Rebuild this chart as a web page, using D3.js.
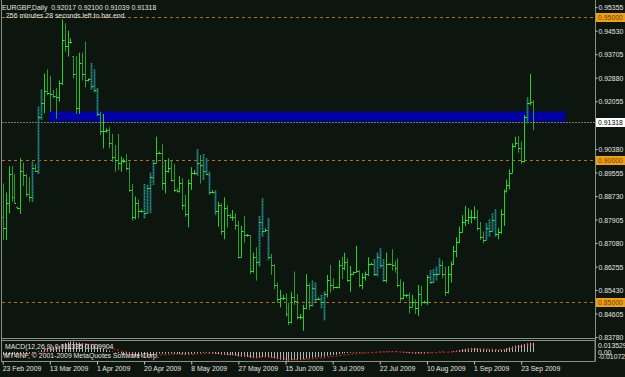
<!DOCTYPE html>
<html><head><meta charset="utf-8">
<script src="https://cdn.jsdelivr.net/npm/d3@7/dist/d3.min.js"></script>
<style>html,body{margin:0;padding:0;background:#0d160e;}svg{display:block}</style>
</head><body><svg id="c" width="625" height="377"></svg>
<script>
const symbolTitle = "EURGBP,Daily  0.92017 0.92100 0.91039 0.91318";
const timerText = "256 minutes 28 seconds left to bar end.";
const macdTitle = "MACD(12,26,9) 0.011335 0.009904";
const copyrightText = "MT4INF, \u00a9 2001-2009 MetaQuotes Software Corp.";

const high = [.8917,.8885,.8978,.8978,.8950,.8836,.9005,.8990,.8950,.8939,
.8993,.8985,.9186,.9246,.9303,.9317,.9294,.9245,.9251,.9278,
.9493,.9479,.9453,.9426,.9364,.9364,.9376,.9376,.9415,.9286,
.9339,.9317,.9251,.9169,.9161,.9110,.9114,.9091,.9052,.9091,
.9011,.9005,.9020,.8993,.8915,.8871,.8861,.8826,.8915,.8912,
.8955,.8999,.9081,.9029,.9055,.8997,.9005,.8997,.8985,.8900,
.8943,.8935,.8877,.8931,.8974,.8964,.9037,.9017,.9020,.9005,
.8958,.8894,.8892,.8853,.8847,.8868,.8841,.8810,.8824,.8812,
.8786,.8768,.8803,.8740,.8736,.8674,.8693,.8803,.8865,.8760,
.8795,.8670,.8634,.8569,.8543,.8526,.8531,.8499,.8537,.8608,
.8529,.8459,.8491,.8599,.8566,.8576,.8569,.8517,.8526,.8537,
.8596,.8631,.8584,.8555,.8648,.8660,.8674,.8654,.8627,.8608,
.8698,.8613,.8602,.8608,.8658,.8639,.8651,.8674,.8689,.8651,
.8674,.8637,.8686,.8646,.8654,.8581,.8572,.8529,.8534,.8526,
.8510,.8561,.8557,.8506,.8596,.8613,.8616,.8625,.8654,.8646,
.8625,.8627,.8643,.8698,.8728,.8766,.8806,.8838,.8830,.8824,
.8836,.8824,.8782,.8748,.8777,.8791,.8812,.8826,.8760,.8826,
.8896,.8931,.8966,.9058,.9081,.9084,.9064,.9157,.9219,.9301,
.92100];
const low = [.8719,.8719,.8812,.8853,.8847,.8826,.8810,.8908,.8871,.8853,
.8853,.8958,.8950,.9140,.9163,.9227,.9169,.9216,.9144,.9204,
.9262,.9379,.9362,.9409,.9286,.9161,.9161,.9278,.9254,.9275,
.9245,.9236,.9154,.9087,.9040,.9095,.9040,.8993,.8958,.8964,
.8958,.8988,.8962,.8888,.8786,.8791,.8795,.8815,.8795,.8812,
.8812,.8912,.8988,.9020,.8894,.8882,.8955,.8923,.8888,.8885,
.8885,.8824,.8800,.8763,.8894,.8947,.8943,.8917,.8929,.8947,
.8877,.8882,.8806,.8765,.8736,.8721,.8763,.8795,.8786,.8754,
.8654,.8658,.8709,.8730,.8599,.8604,.8576,.8625,.8730,.8748,
.8648,.8596,.8546,.8499,.8482,.8508,.8450,.8420,.8426,.8491,
.8440,.8440,.8400,.8475,.8473,.8485,.8502,.8508,.8479,.8436,
.8517,.8534,.8543,.8549,.8549,.8581,.8613,.8572,.8537,.8596,
.8604,.8553,.8546,.8576,.8592,.8631,.8592,.8590,.8619,.8572,
.8569,.8631,.8611,.8604,.8553,.8502,.8510,.8517,.8461,.8482,
.8459,.8452,.8487,.8496,.8491,.8564,.8569,.8576,.8596,.8584,
.8522,.8531,.8569,.8631,.8658,.8707,.8744,.8768,.8775,.8777,
.8789,.8751,.8719,.8707,.8719,.8730,.8748,.8730,.8721,.8740,
.8768,.8885,.8896,.8953,.9044,.9025,.8985,.8990,.9126,.9192,
.91039];
const close = [.8760,.8850,.8950,.8870,.8850,.8832,.8960,.8946,.8880,.8870,
.8970,.8962,.9150,.9200,.9240,.9235,.9230,.9225,.9220,.9270,
.9420,.9400,.9415,.9415,.9300,.9180,.9340,.9300,.9280,.9282,
.9260,.9245,.9160,.9100,.9100,.9105,.9060,.9010,.9000,.8990,
.8995,.8995,.8970,.8895,.8800,.8850,.8820,.8820,.8815,.8900,
.8940,.8990,.9025,.9025,.8920,.8960,.8970,.8930,.8893,.8890,
.8920,.8840,.8810,.8920,.8955,.8955,.8990,.8980,.8960,.8950,
.8888,.8888,.8820,.8840,.8750,.8830,.8805,.8800,.8800,.8770,
.8660,.8750,.8735,.8735,.8610,.8660,.8640,.8780,.8750,.8755,
.8660,.8630,.8560,.8510,.8515,.8515,.8460,.8430,.8520,.8505,
.8450,.8450,.8480,.8560,.8490,.8550,.8512,.8512,.8500,.8530,
.8580,.8560,.8552,.8552,.8630,.8620,.8640,.8580,.8600,.8605,
.8610,.8560,.8590,.8600,.8635,.8635,.8600,.8660,.8630,.8580,
.8635,.8635,.8630,.8620,.8560,.8515,.8525,.8525,.8485,.8500,
.8480,.8530,.8500,.8500,.8590,.8570,.8600,.8600,.8630,.8600,
.8535,.8600,.8635,.8680,.8710,.8745,.8780,.8790,.8800,.8800,
.8800,.8760,.8730,.8720,.8760,.8750,.8790,.8740,.8745,.8810,
.8890,.8910,.8955,.9050,.9060,.9040,.8995,.9150,.9200,.92017,
.91318];
const firstOpen = 0.8800;
const lastOpen = 0.92017;
// bars drawn with the dotted steel-blue style
const dottedBars = [10,12,13,30,31,32,48,49,50,51,66,68,69,70,72,87,88,90,105,106,108,109,126,127,128,129,145,146,147,148,164,165,166,167,178];

const macdMain = [-0.0040,-0.0042,-0.0038,-0.0036,-0.0034,-0.0033,-0.0026,-0.0021,-0.0020,-0.0019,-0.0012,-0.0008,
0.0008,0.0025,0.0040,0.0052,0.0060,0.0066,0.0068,0.0075,
0.0095,0.0110,0.0122,0.0130,0.0128,0.0118,0.0116,0.0110,0.0104,0.0098,0.0090,0.0082,0.0068,
0.0050,0.0038,0.0028,0.0017,0.0004,-0.0006,-0.0015,-0.0021,-0.0026,-0.0032,-0.0042,-0.0055,-0.0060,-0.0064,-0.0066,-0.0068,-0.0060,-0.0050,-0.0038,-0.0028,-0.0020,-0.0022,-0.0020,-0.0018,-0.0019,-0.0023,-0.0025,
-0.0025,-0.0030,-0.0035,-0.0030,-0.0024,-0.0020,-0.0014,-0.0010,-0.0009,-0.0008,-0.0012,-0.0015,-0.0022,-0.0026,-0.0035,-0.0036,-0.0038,-0.0040,-0.0041,-0.0044,
-0.0055,-0.0058,-0.0060,-0.0062,-0.0072,-0.0076,-0.0078,-0.0070,-0.0062,-0.0058,-0.0062,-0.0068,-0.0078,-0.0088,-0.0096,-0.0100,-0.0106,-0.0107,-0.0100,-0.0096,
-0.0096,-0.0094,-0.0090,-0.0082,-0.0078,-0.0070,-0.0066,-0.0062,-0.0060,-0.0056,-0.0048,-0.0042,-0.0038,-0.0035,-0.0026,-0.0020,-0.0014,-0.0013,-0.0010,-0.0008,
-0.0006,-0.0008,-0.0006,-0.0004,0.0000,0.0001,0.0000,0.0002,0.0006,0.0004,0.0005,0.0006,0.0006,0.0006,0.0002,-0.0004,-0.0008,-0.0010,-0.0016,-0.0018,
-0.0021,-0.0018,-0.0018,-0.0018,-0.0010,-0.0006,-0.0002,0.0000,0.0004,0.0005,0.0000,-0.0001,0.0003,0.0010,0.0017,0.0025,0.0034,0.0040,0.0045,0.0048,
0.0050,0.0046,0.0040,0.0034,0.0032,0.0030,0.0031,0.0027,0.0024,0.0028,0.0036,0.0046,0.0056,0.0068,0.0078,0.0086,0.0090,0.0098,0.0106,0.0114,0.011335];
const macdSignal = [-0.0050,-0.0049,-0.0048,-0.0046,-0.0044,-0.0042,-0.0039,-0.0036,-0.0033,-0.0030,-0.0027,-0.0024,
-0.0018,-0.0010,-0.0001,0.0008,0.0017,0.0026,0.0034,0.0042,
0.0052,0.0062,0.0072,0.0081,0.0089,0.0093,0.0096,0.0098,0.0098,0.0097,0.0095,0.0092,0.0087,
0.0080,0.0071,0.0062,0.0053,0.0043,0.0033,0.0024,0.0015,0.0007,-0.0001,-0.0010,-0.0019,-0.0027,-0.0035,-0.0041,-0.0047,-0.0050,-0.0050,-0.0048,-0.0044,-0.0040,-0.0036,-0.0033,-0.0030,-0.0028,-0.0027,-0.0026,
-0.0026,-0.0027,-0.0028,-0.0028,-0.0027,-0.0026,-0.0024,-0.0021,-0.0019,-0.0017,-0.0016,-0.0016,-0.0017,-0.0019,-0.0022,-0.0025,-0.0027,-0.0030,-0.0032,-0.0034,
-0.0038,-0.0042,-0.0045,-0.0049,-0.0053,-0.0058,-0.0062,-0.0063,-0.0063,-0.0062,-0.0062,-0.0063,-0.0066,-0.0070,-0.0076,-0.0081,-0.0086,-0.0090,-0.0092,-0.0093,
-0.0094,-0.0094,-0.0093,-0.0091,-0.0088,-0.0085,-0.0081,-0.0077,-0.0074,-0.0070,-0.0066,-0.0061,-0.0057,-0.0052,-0.0047,-0.0042,-0.0036,-0.0032,-0.0027,-0.0023,
-0.0020,-0.0017,-0.0015,-0.0013,-0.0010,-0.0008,-0.0006,-0.0004,-0.0002,-0.0001,0.0000,0.0001,0.0002,0.0003,0.0003,0.0002,0.0000,-0.0002,-0.0005,-0.0008,
-0.0010,-0.0012,-0.0013,-0.0014,-0.0013,-0.0012,-0.0010,-0.0008,-0.0005,-0.0003,-0.0002,-0.0002,-0.0001,0.0001,0.0004,0.0008,0.0013,0.0018,0.0024,0.0029,
0.0033,0.0036,0.0037,0.0037,0.0036,0.0035,0.0034,0.0033,0.0031,0.0030,0.0031,0.0034,0.0038,0.0045,0.0053,0.0061,0.0067,0.0075,0.0083,0.0092,0.009904];
const macdRange = [-0.010725, 0.013529];
const macdLabels = ["0.013529", "0.00", "-0.010725"];

const priceTicks = [0.95355,0.94530,0.93705,0.92880,0.92055,0.90380,0.89555,0.88730,0.87905,0.87080,0.86255,0.85430,0.84605,0.83780];
const levelLines = [0.95000, 0.90000, 0.85000];
const bidPrice = 0.91318;
const zoneTop = 0.9169, zoneBottom = 0.9135, zoneFrom = 15.7, zoneTo = 191;
const dateLabels = ["23 Feb 2009","13 Mar 2009","1 Apr 2009","20 Apr 2009","8 May 2009","27 May 2009","15 Jun 2009","3 Jul 2009","22 Jul 2009","10 Aug 2009","1 Sep 2009","23 Sep 2009"];
const dateStep = 16;

// ---------- drawing ----------
const svg = d3.select("#c");
const W = 625, H = 377;
const plotL = 2, plotR = 595, mainTop = 0, mainBottom = 338, macdTop = 340, macdBottom = 361;
const FONT = "'Liberation Sans',Arial,sans-serif";
const FS = 8, SX = 0.86;
const TXT = "#e4e4e4";
const BG = "#0d160e";

svg.append("rect").attr("width", W).attr("height", H).attr("fill", BG);

function label(parent, x0, y0, s, fill) {
  const g = parent.append("g").attr("transform", `translate(${x0},${y0}) scale(${SX},1)`);
  return g.append("text").attr("dy", "0.35em").text(s)
    .attr("fill", fill || TXT).attr("font-family", FONT).attr("font-size", FS)
    .style("white-space", "pre");
}

const n = high.length;
const x = d3.scaleLinear().domain([0, n - 1]).range([2.7, 533]);
const y = d3.scaleLinear().domain([0.85, 0.95]).range([302.3, 17.3]);
const ym = d3.scaleLinear().domain(macdRange).range([macdBottom - 0.3, macdTop + 1]);

const open = close.map((c, i) => i === 0 ? firstOpen : (i === n - 1 ? lastOpen : close[i - 1]));
const bars = high.map((h, i) => ({
  i, h, l: low[i], c: close[i],
  o: Math.min(h, Math.max(low[i], open[i])),
  dotted: dottedBars.includes(i)
}));

const main = svg.append("g");
main.append("clipPath").attr("id", "mclip").append("rect")
  .attr("x", plotL).attr("y", mainTop).attr("width", plotR - plotL).attr("height", mainBottom - mainTop);
const mg = main.append("g").attr("clip-path", "url(#mclip)");

// zone rectangle
mg.append("rect")
  .attr("x", x(zoneFrom)).attr("width", x(zoneTo) - x(zoneFrom))
  .attr("y", y(zoneTop)).attr("height", y(zoneBottom) - y(zoneTop))
  .attr("fill", "#0000a6");

// level lines
mg.selectAll("line.level").data(levelLines).join("line")
  .attr("x1", plotL).attr("x2", plotR)
  .attr("y1", d => Math.round(y(d)) + 0.5).attr("y2", d => Math.round(y(d)) + 0.5)
  .attr("stroke", "#b8701e").attr("stroke-width", 1).attr("stroke-dasharray", "3,3");

// bid line
mg.append("line")
  .attr("x1", plotL).attr("x2", plotR)
  .attr("y1", Math.round(y(bidPrice)) + 0.5).attr("y2", Math.round(y(bidPrice)) + 0.5)
  .attr("stroke", "#6e7882").attr("stroke-width", 1).attr("stroke-dasharray", "2,1");

// OHLC bars
const upCol = "#1ed21e", dnCol = "#2a9c2a";
const bg = mg.selectAll("g.bar").data(bars).join("g").attr("class", "bar");
bg.each(function (d) {
  const g = d3.select(this);
  const cx = Math.round(x(d.i)) + 0.5;
  const col = d.c >= d.o ? upCol : dnCol;
  if (d.dotted) {
    g.append("rect").attr("x", cx - 1).attr("width", 2)
      .attr("y", y(d.h)).attr("height", Math.max(1, y(d.l) - y(d.h)))
      .attr("fill", "#1d5a74");
    g.append("line").attr("x1", cx).attr("x2", cx).attr("y1", y(d.h)).attr("y2", y(d.l))
      .attr("stroke", "#2fae3a").attr("stroke-width", 1).attr("stroke-dasharray", "1,2");
  } else {
    g.append("line").attr("x1", cx).attr("x2", cx).attr("y1", y(d.h)).attr("y2", Math.max(y(d.l), y(d.h) + 1))
      .attr("stroke", col).attr("stroke-width", 1);
  }
  g.append("line").attr("x1", cx - 1.5).attr("x2", cx).attr("y1", Math.round(y(d.o)) + 0.5).attr("y2", Math.round(y(d.o)) + 0.5)
    .attr("stroke", col).attr("stroke-width", 1);
  g.append("line").attr("x1", cx).attr("x2", cx + 1.5).attr("y1", Math.round(y(d.c)) + 0.5).attr("y2", Math.round(y(d.c)) + 0.5)
    .attr("stroke", "#3cf03c").attr("stroke-width", 1);
});

// frame
const frameCol = "#8a8f8a";
svg.append("line").attr("x1", 1.5).attr("x2", 1.5).attr("y1", 0).attr("y2", macdBottom).attr("stroke", frameCol);
svg.append("line").attr("x1", plotL).attr("x2", plotR).attr("y1", mainBottom + 0.5).attr("y2", mainBottom + 0.5).attr("stroke", frameCol);
svg.append("rect").attr("x", 1.5).attr("y", macdTop + 0.5).attr("width", plotR - 1.5).attr("height", macdBottom - macdTop)
  .attr("fill", "none").attr("stroke", frameCol);

// right price axis
const yAxis = d3.axisRight(y).tickValues(priceTicks).tickFormat(d3.format(".5f")).tickSize(2).tickPadding(1);
const ya = svg.append("g").attr("transform", `translate(${plotR + 0.5},0)`).call(yAxis);
ya.select(".domain").attr("stroke", frameCol).attr("d", `M0,0V${macdBottom}`);
ya.selectAll(".tick line").attr("stroke", "#c8c8c8");
ya.selectAll(".tick text").attr("fill", TXT).attr("font-family", FONT).attr("font-size", FS)
  .attr("x", 3 / SX).attr("transform", `scale(${SX},1)`);

// level labels
const lvl = svg.append("g");
levelLines.forEach(v => {
  const yy = Math.round(y(v));
  lvl.append("rect").attr("x", plotR + 1).attr("y", yy - 4).attr("width", 29).attr("height", 9).attr("fill", "#f0a014");
  label(lvl, plotR + 3, yy + 0.5, d3.format(".5f")(v), "#6a3e00");
});
const by = Math.round(y(bidPrice));
lvl.append("rect").attr("x", plotR + 1).attr("y", by - 4).attr("width", 29).attr("height", 9).attr("fill", "#ffffff");
label(lvl, plotR + 3, by + 0.5, d3.format(".5f")(bidPrice), "#000");

// MACD pane
const mp = svg.append("g");
mp.selectAll("line.h").data(macdMain).join("line")
  .attr("x1", (d, i) => Math.round(x(i)) + 0.5).attr("x2", (d, i) => Math.round(x(i)) + 0.5)
  .attr("y1", ym(0)).attr("y2", d => ym(d))
  .attr("stroke", "#b4b4b4").attr("stroke-width", 1);
mp.append("path").datum(macdSignal)
  .attr("d", d3.line().x((d, i) => x(i)).y(d => ym(d)))
  .attr("fill", "none").attr("stroke", "#ff1a1a").attr("stroke-width", 1).attr("stroke-dasharray", "2,2");
label(mp, plotR + 3, macdTop + 5, macdLabels[0]);
label(mp, plotR + 3, ym(0), macdLabels[1]);
label(mp, plotR + 3, macdBottom - 4.5, macdLabels[2]);
label(mp, 5, macdTop + 6.5, macdTitle);
label(mp, 4, macdTop + 15, copyrightText);

// date axis
const xAxis = d3.axisBottom(x).tickValues(dateLabels.map((d, i) => i * dateStep))
  .tickFormat((d, i) => dateLabels[i]).tickSize(3).tickPadding(1);
const xa = svg.append("g").attr("transform", `translate(0,${macdBottom + 0.5})`).call(xAxis);
xa.select(".domain").remove();
xa.selectAll(".tick line").attr("stroke", "#c8c8c8");
xa.selectAll(".tick text").attr("fill", TXT).attr("font-family", FONT).attr("font-size", FS)
  .attr("text-anchor", "start").attr("x", -0.5 / SX).attr("transform", `scale(${SX},1)`);

// header texts
label(svg, 2, 7.5, symbolTitle);
label(svg, 6, 15.5, timerText);
</script>
</body></html>
